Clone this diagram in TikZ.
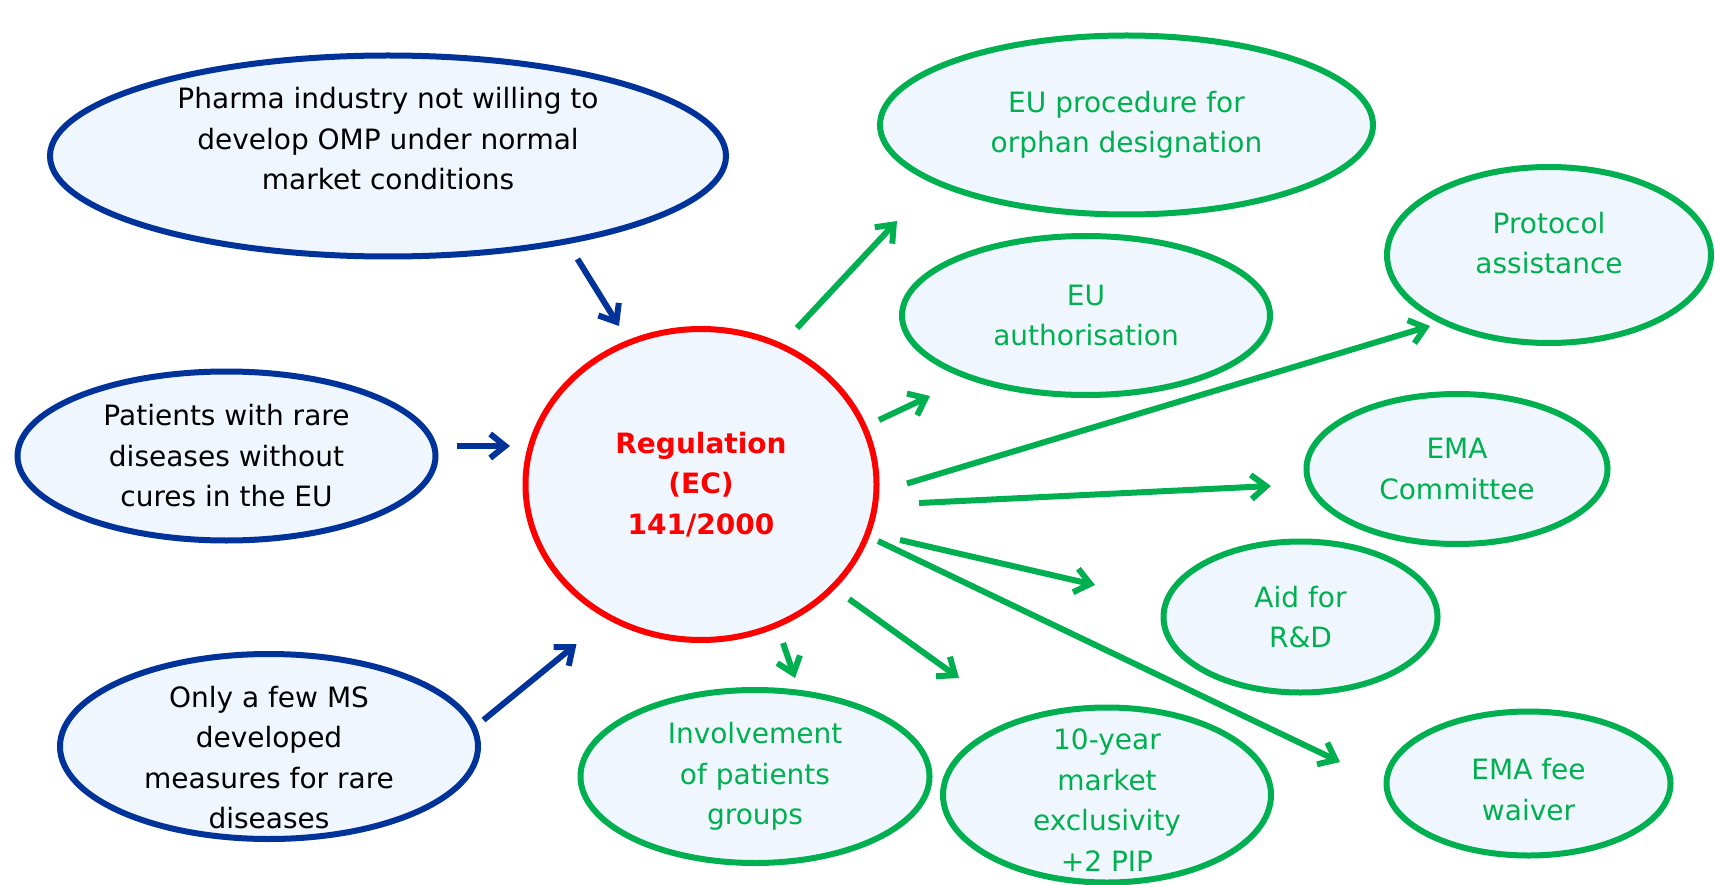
\documentclass[tikz,border=0pt]{standalone}
\usepackage{fontspec}
\setmainfont{DejaVu Sans}
\usetikzlibrary{shapes.geometric,arrows.meta}
\definecolor{navy}{RGB}{0,51,153}
\definecolor{leaf}{RGB}{0,176,80}
\definecolor{pale}{RGB}{240,246,253}
\definecolor{regred}{RGB}{255,0,0}
\begin{document}
\begin{tikzpicture}[x=1pt,y=-1pt,
  bubble/.style={ellipse,fill=pale,line width=6pt,inner sep=0pt},
  causebubble/.style={bubble,draw=navy},
  measurebubble/.style={bubble,draw=leaf,text=leaf},
  words/.style={align=center,font=\fontsize{28}{40.5}\selectfont},
  bluearrow/.style={draw=navy,line width=6pt,-{Straight Barb[length=15pt,width=24pt]}},
  greenarrow/.style={draw=leaf,line width=6pt,-{Straight Barb[length=15pt,width=24pt]}}]
\useasboundingbox (0,0) rectangle (1715,885);

% causes on the left
\node[causebubble,minimum width=676pt,minimum height=201pt] (pharma) at (388,156) {};
\node[words] (pharmatxt) at ([yshift=17pt]pharma.center)
  {Pharma industry not willing to\\develop OMP under normal\\market conditions};
\node[causebubble,words,minimum width=418pt,minimum height=169pt] (patients) at (226.5,456)
  {Patients with rare\\diseases without\\cures in the EU};
\node[causebubble,minimum width=418pt,minimum height=185pt] (fewms) at (269,746.5) {};
\node[words] (fewmstxt) at ([yshift=-11pt]fewms.center)
  {Only a few MS\\developed\\measures for rare\\diseases};

% the regulation
\node[bubble,draw=regred,line width=6pt,minimum width=351pt,minimum height=311pt,
  words,text=regred,font=\fontsize{28}{40.5}\selectfont\bfseries] (reg) at (701,484.5)
  {Regulation\\(EC)\\141/2000};

% measures on the right
\node[measurebubble,words,minimum width=493pt,minimum height=179pt] (procedure) at (1126.5,125)
  {EU procedure for\\orphan designation};
\node[measurebubble,words,minimum width=368pt,minimum height=159pt] (auth) at (1086,315.5)
  {EU\\authorisation};
\node[measurebubble,minimum width=324pt,minimum height=176pt] (protocol) at (1549,255) {};
\node[words,text=leaf] (protocoltxt) at ([yshift=12pt]protocol.center)
  {Protocol\\assistance};
\node[measurebubble,words,minimum width=301pt,minimum height=150pt] (committee) at (1457,469)
  {EMA\\Committee};
\node[measurebubble,words,minimum width=274pt,minimum height=151pt] (aid) at (1300.5,617)
  {Aid for\\R\&D};
\node[measurebubble,minimum width=284pt,minimum height=144pt] (fee) at (1528.5,783.5) {};
\node[words,text=leaf] (feetxt) at ([yshift=-6pt]fee.center)
  {EMA fee\\waiver};
\node[measurebubble,words,minimum width=349pt,minimum height=173pt] (patientsgroups) at (755,776.5)
  {Involvement\\of patients\\groups};
\node[measurebubble,minimum width=328pt,minimum height=175pt] (exclusivity) at (1107,795) {};
\node[words,text=leaf] (exclusivitytxt) at ([yshift=-5pt]exclusivity.center)
  {10-year\\market\\exclusivity\\+2 PIP};

% arrow ends
\coordinate (a1s) at (577.5,259); \coordinate (a1e) at (619,326);
\coordinate (a2s) at (457,446);   \coordinate (a2e) at (510,446);
\coordinate (a3s) at (483.5,720); \coordinate (a3e) at (576.5,644);
\coordinate (g1s) at (797,328);   \coordinate (g1e) at (897,221);
\coordinate (g2s) at (879,420);   \coordinate (g2e) at (930,396);
\coordinate (g3s) at (907,483.5); \coordinate (g3e) at (1430,326);
\coordinate (g4s) at (919,503);   \coordinate (g4e) at (1271,486);
\coordinate (g5s) at (900,540);   \coordinate (g5e) at (1095,585);
\coordinate (g6s) at (878,541);   \coordinate (g6e) at (1340,762);
\coordinate (g7s) at (849,599);   \coordinate (g7e) at (959,678);
\coordinate (g8s) at (783,643);   \coordinate (g8e) at (795,678);

\draw[bluearrow] (a1s) -- (a1e);
\draw[bluearrow] (a2s) -- (a2e);
\draw[bluearrow] (a3s) -- (a3e);
\draw[greenarrow] (g1s) -- (g1e);
\draw[greenarrow] (g2s) -- (g2e);
\draw[greenarrow] (g3s) -- (g3e);
\draw[greenarrow] (g4s) -- (g4e);
\draw[greenarrow] (g5s) -- (g5e);
\draw[greenarrow] (g6s) -- (g6e);
\draw[greenarrow] (g7s) -- (g7e);
\draw[greenarrow] (g8s) -- (g8e);
\end{tikzpicture}
\end{document}
